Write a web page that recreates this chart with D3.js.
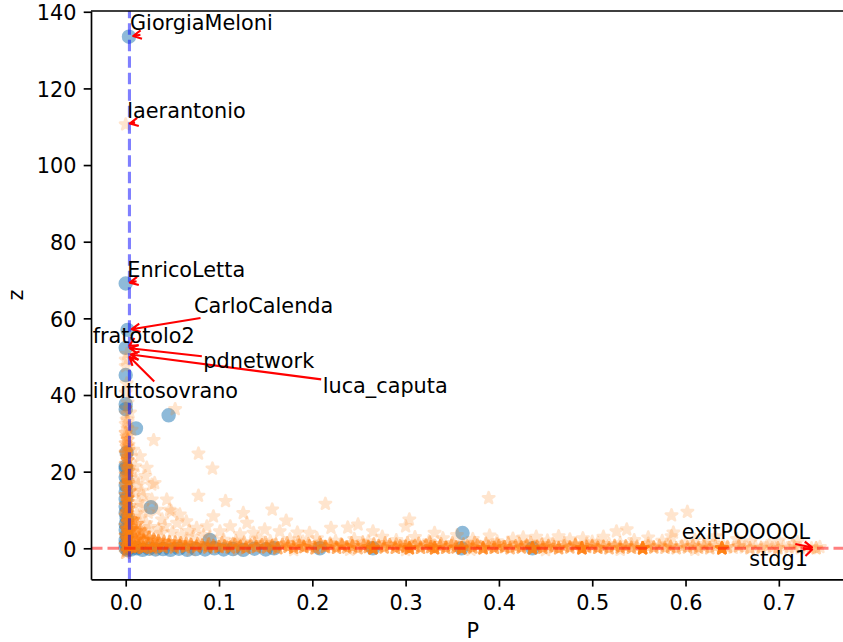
<!DOCTYPE html>
<html>
<head>
    <title>P vs z</title>
    <meta charset="utf-8" />
    <style>
        body { margin: 0; background: #fff; }
        svg { display: block; }
        text { font-family: "DejaVu Sans", sans-serif; }
    </style>
    <script src="https://cdn.jsdelivr.net/npm/d3@7"></script>
</head>
<body>
<script>

// ticks and axis names
let xTicks = [0, 0.1, 0.2, 0.3, 0.4, 0.5, 0.6, 0.7];
let yTicks = [0, 20, 40, 60, 80, 100, 120, 140];
let xName = "P", yName = "z";

// the two dashed reference lines
let pCut = 0.004;
let zCut = 0;

// blue circles, [P, z]
let circles = [
    [0.0035, 133.5], [0.000, 69.1], [0.002, 57.0], [0.000, 52.3], [0.000, 45.2],
    [0.000, 37.6], [0.000, 36.3], [0.046, 34.7], [0.011, 31.3], [0.001, 25.0],
    [0.000, 21.4], [0.000, 20.8], [0.027, 10.7], [0.090, 2.2], [0.361, 4.0],
    [0.000, 18.6], [0.000, 16.5], [0.000, 14.7], [0.000, 12.8], [0.000, 11.0],
    [0.000, 9.3], [0.001, 7.8], [0.000, 6.3], [0.000, 4.8], [0.001, 3.4],
    [0.000, 2.1], [0.000, 1.0], [0.000, 0.0], [0.002, -0.4],
    [0.006, -0.3], [0.012, 0.0], [0.018, -0.4], [0.025, -0.1], [0.032, -0.3],
    [0.040, -0.2], [0.048, -0.4], [0.057, -0.1], [0.066, -0.4], [0.075, -0.2],
    [0.085, -0.3], [0.095, 0.0], [0.105, -0.3], [0.115, -0.2], [0.126, -0.4],
    [0.138, -0.1], [0.150, -0.3], [0.159, 0.0], [0.208, 0.0], [0.265, 0.0],
    [0.360, 0.0], [0.436, 0.0]
];

// orange stars, [P, z, how many sit on the same spot]
let starsColumn = [
    [0.000, -1.2, 2], [0.001, -0.6, 3], [0.002, 0.2, 5], [0.000, 0.8, 5], [0.004, 1.5, 4],
    [0.001, 2.4, 4], [0.000, 3.3, 4], [0.003, 4.1, 4], [0.001, 5.0, 4], [0.000, 5.9, 3],
    [0.002, 6.8, 3], [0.005, 7.6, 3], [0.000, 8.5, 3], [0.001, 9.4, 3], [0.003, 10.3, 3],
    [0.000, 11.2, 3], [0.002, 12.1, 3], [0.001, 13.0, 3], [0.000, 13.9, 3], [0.004, 14.8, 2],
    [0.001, 15.7, 3], [0.000, 16.6, 3], [0.002, 17.5, 2], [0.001, 18.4, 3], [0.000, 19.3, 2],
    [0.003, 20.2, 2], [0.001, 21.1, 3], [0.000, 22.0, 2], [0.002, 22.9, 2], [0.001, 23.8, 2],
    [0.000, 24.7, 2], [0.003, 25.6, 2], [0.001, 26.5, 2], [0.000, 27.4, 2], [0.002, 28.3, 2],
    [0.001, 29.2, 1], [0.000, 30.1, 2], [0.002, 31.3, 1], [0.000, 32.4, 1], [0.001, 33.6, 1],
    [0.000, 35.2, 1], [0.002, 38.0, 1], [0.000, 40.6, 1], [0.001, 43.0, 1], [0.000, 47.5, 1],
    [0.000, 49.2, 1], [0.001, 50.7, 1], [0.000, 110.6, 1],
    [0.004, 1.0, 2], [0.002, 3.0, 2], [0.005, 5.0, 2], [0.003, 7.0, 2], [0.001, 9.0, 2],
    [0.004, 11.0, 2], [0.002, 13.0, 2], [0.005, 15.0, 1], [0.003, 17.0, 2], [0.001, 19.0, 2],
    [0.004, 21.0, 1], [0.002, 23.0, 2], [0.000, 25.0, 2], [0.003, 27.0, 1], [0.001, 29.0, 1],
    [0.002, 33.0, 1], [0.000, 36.5, 1]
];

let starsCurve = [
    [0.006, 0.3, 5], [0.006, 2.6, 4], [0.007, 5.0, 4], [0.008, 7.4, 3],
    [0.010, 0.2, 5], [0.011, 2.2, 4], [0.011, 4.4, 3], [0.012, 6.3, 3],
    [0.014, 0.5, 5], [0.015, 2.4, 4], [0.016, 4.6, 3],
    [0.019, 0.1, 5], [0.019, 2.0, 4], [0.020, 3.8, 3],
    [0.024, 0.5, 5], [0.025, 2.7, 4],
    [0.029, 0.2, 5], [0.030, 2.2, 4],
    [0.034, 0.6, 4], [0.035, 1.9, 4],
    [0.040, 0.3, 5], [0.041, 1.7, 3],
    [0.046, 0.8, 4], [0.047, 1.6, 3],
    [0.052, 0.2, 4], [0.053, 1.5, 3],
    [0.058, 0.6, 4], [0.059, 1.3, 3],
    [0.064, 0.3, 4], [0.065, 1.2, 3],
    [0.070, 0.9, 4],
    [0.076, 0.4, 4], [0.077, 1.1, 3],
    [0.082, 0.7, 4],
    [0.088, 0.2, 4], [0.089, 1.0, 3],
    [0.094, 0.6, 4],
    [0.100, 0.3, 4]
];

let starsBand = [
    [0.106, 0.5, 4], [0.112, 0.2, 4], [0.117, 0.9, 3], [0.123, 0.4, 4], [0.129, 0.1, 4],
    [0.134, 0.7, 3], [0.140, 0.3, 4], [0.146, 0.8, 3], [0.151, 0.2, 4], [0.157, 0.6, 4],
    [0.163, 0.0, 4], [0.168, 0.9, 3], [0.174, 0.4, 4], [0.180, 0.1, 4], [0.186, 0.7, 3],
    [0.191, 0.3, 4], [0.197, 0.5, 3], [0.203, 0.0, 4], [0.209, 0.8, 3], [0.214, 0.3, 4],
    [0.220, 0.6, 3], [0.226, 0.1, 4], [0.232, 0.7, 4], [0.237, 0.2, 3], [0.243, 0.5, 4],
    [0.249, 0.0, 3], [0.255, 0.6, 3], [0.260, 0.3, 4], [0.265, 0.0, 9], [0.271, 0.6, 3],
    [0.277, 0.2, 4], [0.283, 0.8, 3], [0.289, 0.1, 4], [0.294, 0.5, 3], [0.300, 0.4, 4],
    [0.304, 0.0, 8], [0.310, 0.6, 3], [0.316, 0.1, 4], [0.322, 0.7, 3], [0.327, 0.3, 4],
    [0.331, 0.0, 8], [0.337, 0.5, 3], [0.343, 0.1, 4], [0.349, 0.6, 3], [0.354, 0.2, 4],
    [0.360, 0.0, 8], [0.366, 0.5, 3], [0.372, 0.2, 4], [0.377, 0.7, 3], [0.383, 0.0, 7],
    [0.389, 0.4, 3], [0.395, 0.1, 4], [0.400, 0.6, 3], [0.406, 0.3, 4], [0.412, 0.0, 3],
    [0.418, 0.5, 3], [0.424, 0.2, 4], [0.430, 0.7, 3], [0.436, 0.0, 9], [0.441, 0.4, 3],
    [0.447, 0.1, 4], [0.453, 0.6, 3], [0.459, 0.3, 3], [0.464, 0.0, 4], [0.470, 0.5, 3],
    [0.476, 0.2, 3], [0.482, 0.7, 3], [0.489, 0.0, 10], [0.494, 0.3, 3], [0.500, 0.6, 3],
    [0.506, 0.1, 4], [0.512, 0.4, 3], [0.518, 0.0, 3], [0.524, 0.6, 3], [0.530, 0.2, 3],
    [0.536, 0.5, 3], [0.542, 0.1, 3], [0.548, 0.4, 2], [0.554, 0.0, 12], [0.560, 0.5, 2],
    [0.566, 0.2, 3], [0.572, 0.6, 2], [0.578, 0.1, 2], [0.584, 0.4, 3], [0.590, 0.0, 2],
    [0.596, 0.5, 2], [0.602, 0.2, 2], [0.608, 0.6, 2], [0.614, 0.1, 2], [0.620, 0.4, 2],
    [0.626, 0.0, 2], [0.632, 0.5, 2], [0.639, 0.0, 12], [0.645, 0.3, 2], [0.651, 0.1, 1],
    [0.657, 0.5, 2], [0.663, 0.2, 1], [0.669, 0.0, 2], [0.675, 0.4, 1], [0.681, 0.1, 2],
    [0.687, 0.5, 1], [0.693, 0.2, 1], [0.699, 0.0, 2], [0.705, 0.4, 1], [0.711, 0.1, 1],
    [0.717, 0.3, 1], [0.723, 0.0, 1], [0.729, 0.2, 1], [0.735, 0.0, 1], [0.740, 0.0, 2],
    [0.744, 0.3, 1]
];

// the upper and lower edges of the band
let starsBandEdge = [
    [0.103, 1.3, 2], [0.115, 1.1, 2], [0.127, 1.5, 2], [0.138, 1.2, 2], [0.150, 1.4, 2],
    [0.161, 1.0, 2], [0.173, 1.3, 2], [0.185, 1.5, 2], [0.196, 1.1, 2], [0.208, 1.4, 2],
    [0.219, 1.2, 2], [0.231, 1.0, 2], [0.242, 1.3, 2], [0.254, 1.5, 2], [0.266, 1.1, 2],
    [0.278, 1.3, 2], [0.290, 1.0, 2], [0.302, 1.4, 2], [0.314, 1.2, 2], [0.326, 1.5, 2],
    [0.338, 1.1, 2], [0.350, 1.3, 2], [0.362, 1.0, 2], [0.374, 1.4, 2], [0.386, 1.2, 2],
    [0.398, 1.0, 2], [0.410, 1.3, 2], [0.422, 1.1, 2], [0.434, 1.4, 2], [0.446, 1.0, 2],
    [0.458, 1.2, 1], [0.470, 1.3, 1], [0.482, 1.0, 2], [0.494, 1.2, 1], [0.506, 1.4, 1],
    [0.518, 1.1, 1], [0.530, 1.3, 1], [0.542, 1.0, 1], [0.560, 1.2, 1], [0.580, 1.0, 1],
    [0.600, 1.3, 1], [0.620, 1.1, 1], [0.640, 1.0, 1], [0.660, 1.2, 1], [0.690, 1.0, 1],
    [0.715, 1.1, 1],
    [0.030, -0.4, 1], [0.070, -0.5, 1], [0.120, -0.4, 1], [0.180, -0.5, 1], [0.240, -0.4, 1],
    [0.300, -0.5, 1], [0.370, -0.4, 1], [0.450, -0.5, 1], [0.530, -0.4, 1], [0.610, -0.4, 1]
];

// single stars off the main band, [P, z]
let starsLoose = [
    [0.030, 28.2], [0.078, 24.7], [0.093, 20.8], [0.0225, 21.0], [0.031, 17.0],
    [0.078, 13.7], [0.107, 12.3], [0.126, 9.2], [0.157, 10.1], [0.214, 11.6],
    [0.053, 36.3], [0.249, 6.2], [0.220, 5.3], [0.197, 4.0], [0.149, 4.9],
    [0.087, 5.7], [0.049, 9.6], [0.028, 12.7], [0.021, 18.8], [0.172, 7.2],
    [0.304, 7.5], [0.300, 5.7], [0.331, 4.0], [0.389, 13.1], [0.464, 3.1],
    [0.526, 4.4], [0.537, 4.9], [0.585, 8.6], [0.602, 9.5], [0.585, 3.1],
    [0.632, 3.1], [0.426, 2.8], [0.476, 2.3], [0.512, 3.0], [0.587, 4.1],
    [0.165, 4.4], [0.184, 4.1], [0.238, 5.4], [0.265, 4.4], [0.047, 10.0],
    [0.058, 8.8], [0.039, 7.5], [0.065, 7.0], [0.076, 5.3], [0.055, 6.6],
    [0.033, 10.0], [0.019, 13.6], [0.0135, 16.6], [0.010, 21.4], [0.008, 25.7],
    [0.0064, 30.9], [0.0046, 35.4], [0.0153, 24.0], [0.028, 16.6], [0.044, 12.7],
    [0.094, 8.3], [0.112, 5.7], [0.130, 6.6], [0.101, 4.4], [0.1225, 3.6],
    [0.137, 4.0], [0.105, 2.2], [0.118, 1.9], [0.142, 2.5], [0.155, 1.8],
    [0.176, 2.3], [0.190, 1.7], [0.205, 2.6], [0.225, 1.9], [0.245, 2.4],
    [0.260, 1.8], [0.275, 3.0], [0.290, 2.1], [0.310, 2.9], [0.325, 1.8],
    [0.340, 2.6], [0.355, 3.4], [0.372, 2.4], [0.390, 3.3], [0.398, 1.8],
    [0.415, 2.5], [0.440, 3.0], [0.452, 2.0], [0.490, 2.6], [0.500, 1.7],
    [0.545, 2.1], [0.560, 2.8], [0.575, 1.9], [0.610, 2.2], [0.625, 1.7],
    [0.655, 2.4], [0.670, 1.8], [0.700, 2.0], [0.720, 1.6],
    [0.012, 9.0], [0.016, 8.2], [0.018, 11.0], [0.022, 6.5], [0.024, 9.3],
    [0.026, 5.5], [0.035, 5.0], [0.038, 4.0], [0.042, 5.8], [0.050, 4.2],
    [0.060, 3.5], [0.068, 4.5], [0.072, 3.0], [0.083, 3.4], [0.090, 2.8],
    [0.014, 12.0], [0.009, 14.5], [0.017, 15.0], [0.011, 18.0], [0.007, 20.0]
];

// annotations
let labelNames = ["GiorgiaMeloni", "laerantonio", "EnricoLetta", "CarloCalenda", "fratotolo2",
    "pdnetwork", "luca_caputa", "ilruttosovrano", "exitPOOOOL", "stdg1"];
let labelAt = [[0.0035, 133.5], [0.000, 110.6], [0.000, 69.1], [0.002, 57.0], [0.000, 52.3],
    [0.000, 52.3], [0.001, 50.7], [0.001, 50.7], [0.740, 0.0], [0.740, 0.0]];
let labelText = [[0.0046, 135.2], [0.0017, 112.3], [0.0017, 70.9], [0.0732, 61.3], [-0.0354, 53.5],
    [0.0832, 47.0], [0.2111, 40.4], [-0.0354, 39.1], [0.5959, 2.35], [0.6684, -4.54]];


// layout
let W = 843, H = 642;
let box = { left: 91, right: 854.6, top: 11, bottom: 579.3 };
let fs = 20.8;

let xScale = d3.scaleLinear()
    .domain([-0.0372, 0.7812])
    .range([box.left, box.right]);

let yScale = d3.scaleLinear()
    .domain([-8.09, 140.2])
    .range([box.bottom, box.top]);

let svg = d3.select("body")
    .append("svg")
    .attr("width", W)
    .attr("height", H);

svg.append("clipPath")
    .attr("id", "plotArea")
    .append("rect")
    .attr("x", box.left)
    .attr("y", box.top)
    .attr("width", box.right - box.left)
    .attr("height", box.bottom - box.top);

let plot = svg.append("g").attr("clip-path", "url(#plotArea)");

// circles first, stars on top; each marker is one translucent shape (face + edge)
plot.selectAll("circle")
    .data(circles)
    .enter()
    .append("circle")
    .attr("cx", d => xScale(d[0]))
    .attr("cy", d => yScale(d[1]))
    .attr("r", 6.1)
    .attr("fill", "#1f77b4")
    .attr("stroke", "#1f77b4")
    .attr("stroke-width", 2.2)
    .attr("opacity", 0.5);

let stars = starsColumn.concat(starsCurve, starsBand, starsBandEdge, starsLoose.map(d => [d[0], d[1], 1]))
    .flatMap(d => d3.range(d[2]).map(() => d));

let starShape = d3.symbol(d3.symbolStar, 40);

plot.selectAll("path.star")
    .data(stars)
    .enter()
    .append("path")
    .attr("class", "star")
    .attr("d", starShape)
    .attr("transform", d => "translate(" + xScale(d[0]) + "," + yScale(d[1]) + ")")
    .attr("fill", "#ff7f0e")
    .attr("stroke", "#ff7f0e")
    .attr("stroke-width", 2.6)
    .attr("stroke-linejoin", "round")
    .attr("opacity", 0.2);

// dashed lines
plot.append("line")
    .attr("x1", xScale(pCut)).attr("x2", xScale(pCut))
    .attr("y1", box.bottom).attr("y2", box.top)
    .attr("stroke", "blue").attr("stroke-opacity", 0.5)
    .attr("stroke-width", 3.1)
    .attr("stroke-dasharray", "11.5,5");

plot.append("line")
    .attr("x1", box.left).attr("x2", box.right)
    .attr("y1", yScale(zCut)).attr("y2", yScale(zCut))
    .attr("stroke", "red").attr("stroke-opacity", 0.5)
    .attr("stroke-width", 3.1)
    .attr("stroke-dasharray", "11.5,5");

// axes
let xAxis = d3.axisBottom(xScale)
    .tickValues(xTicks)
    .tickFormat(d3.format(".1f"))
    .tickSize(7.3)
    .tickPadding(8.6)
    .tickSizeOuter(0);

let yAxis = d3.axisLeft(yScale)
    .tickValues(yTicks)
    .tickFormat(d3.format("d"))
    .tickSize(7.3)
    .tickPadding(7.3)
    .tickSizeOuter(0);

let gx = svg.append("g")
    .attr("transform", "translate(0," + box.bottom + ")")
    .call(xAxis);

let gy = svg.append("g")
    .attr("transform", "translate(" + box.left + ",0)")
    .call(yAxis);

gy.selectAll(".tick text").attr("dy", "0.38em");

[gx, gy].forEach(g => {
    g.attr("font-family", "DejaVu Sans").attr("font-size", fs);
    g.selectAll("path, line").attr("stroke", "#000").attr("stroke-width", 1.67);
    g.selectAll("text").attr("fill", "#000");
});

// top and right spines
svg.append("path")
    .attr("d", "M" + box.left + "," + box.top + "H" + box.right + "V" + box.bottom)
    .attr("fill", "none")
    .attr("stroke", "#000")
    .attr("stroke-width", 1.67);

svg.append("text")
    .attr("x", (box.left + box.right) / 2)
    .attr("y", 638)
    .attr("text-anchor", "middle")
    .attr("font-size", fs)
    .text(xName);

svg.append("text")
    .attr("transform", "translate(23," + (box.top + box.bottom) / 2 + ") rotate(-90)")
    .attr("text-anchor", "middle")
    .attr("font-size", fs)
    .text(yName);

// annotations: arrow leaves the text box and stops just short of the point
let arrows = svg.append("g")
    .attr("fill", "none")
    .attr("stroke", "red")
    .attr("stroke-width", 2.08)
    .attr("stroke-linejoin", "round");
let notes = svg.append("g");

labelNames.forEach((name, i) => {
    let tx = xScale(labelText[i][0]), ty = yScale(labelText[i][1]);
    let t = notes.append("text")
        .attr("x", tx)
        .attr("y", ty)
        .attr("font-size", fs)
        .attr("fill", "#000")
        .text(name);

    let w = t.node().getComputedTextLength();
    let b = { x0: tx, x1: tx + w, y0: ty - 0.76 * fs, y1: ty + 0.208 * fs };
    let cx = (b.x0 + b.x1) / 2, cy = (b.y0 + b.y1) / 2;
    let px = xScale(labelAt[i][0]), py = yScale(labelAt[i][1]);
    let len = Math.hypot(px - cx, py - cy);
    let ux = (px - cx) / len, uy = (py - cy) / len;

    let tx0 = ux > 0 ? (b.x1 - cx) / ux : ux < 0 ? (b.x0 - cx) / ux : Infinity;
    let ty0 = uy > 0 ? (b.y1 - cy) / uy : uy < 0 ? (b.y0 - cy) / uy : Infinity;
    let shrink = 4.2;
    let ex = px - ux * shrink, ey = py - uy * shrink;
    let s = Math.min(Math.min(tx0, ty0) + 1.5, len - shrink);
    let sx = cx + ux * s, sy = cy + uy * s;

    let hl = 8.3, hw = 4.2;
    arrows.append("path")
        .attr("d",
            "M" + sx + "," + sy + "L" + ex + "," + ey +
            "M" + (ex - ux * hl - uy * hw) + "," + (ey - uy * hl + ux * hw) +
            "L" + ex + "," + ey +
            "L" + (ex - ux * hl + uy * hw) + "," + (ey - uy * hl - ux * hw));
});

</script>
</body>
</html>
